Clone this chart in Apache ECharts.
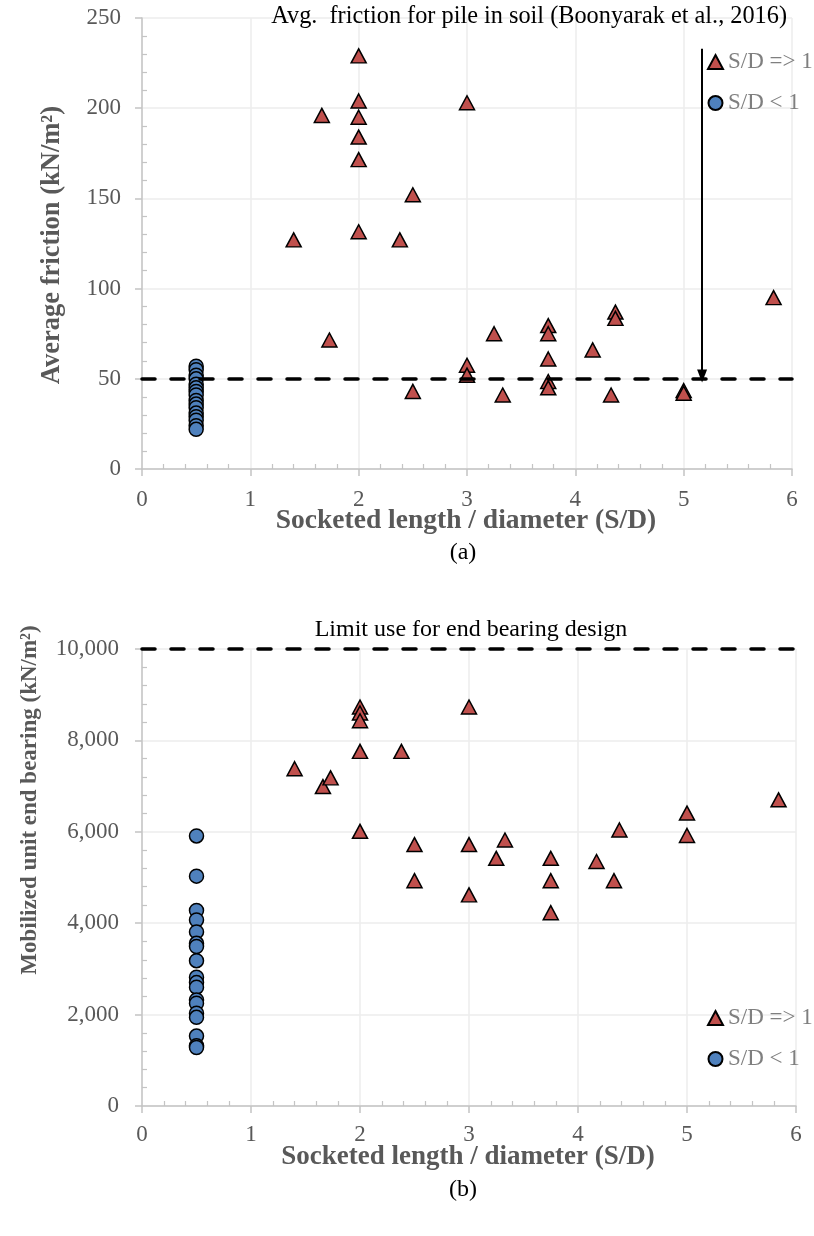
<!DOCTYPE html>
<html>
<head>
<meta charset="utf-8">
<script src="https://cdn.jsdelivr.net/npm/echarts@6/dist/echarts.min.js"></script>
<style>
html,body{margin:0;padding:0;background:#fff;}
#c{width:814px;height:1236px;}
</style>
</head>
<body>
<div id="c"></div>
<script>
// ---- data (a): average friction ----
var frictionHigh = [
  [1.4,127],[1.66,196],[1.73,71.5],[2,229],[2,204],[2,195],[2,184],[2,171.5],[2,131.5],
  [2.38,127],[2.5,152],[2.5,43],[3,203],[3,57.5],[3,52],[3.25,75],[3.33,41],
  [3.75,79.5],[3.75,75],[3.75,61],[3.75,48.5],[3.75,45],[4.16,66],[4.33,41],
  [4.37,87],[4.37,83.5],[5,43.5],[5,42],[5.83,95]
];
var frictionLow = [
  [0.5,57],[0.5,55],[0.5,52],[0.5,50],[0.5,47],[0.5,45],[0.5,43],[0.5,41],
  [0.5,38],[0.5,36],[0.5,34],[0.5,31],[0.5,29],[0.5,27],[0.5,24],[0.5,22]
];
var frictionLimit = 50;
var arrowX = 5.17, arrowFrom = 233, arrowTo = 51.5;

// ---- data (b): mobilized unit end bearing ----
var bearingHigh = [
  [1.4,7380],[1.66,6990],[1.73,7180],[2,8730],[2,8600],[2,8430],[2,7760],[2,6010],
  [2.38,7760],[2.5,5720],[2.5,4930],[3,8730],[3,5720],[3,4620],[3.25,5420],[3.33,5820],
  [3.75,5420],[3.75,4930],[3.75,4230],[4.17,5350],[4.33,4930],[4.38,6040],
  [5,6410],[5,5920],[5.84,6700]
];
var bearingLow = [
  [0.5,5910],[0.5,5030],[0.5,4280],[0.5,4070],[0.5,3810],[0.5,3560],[0.5,3490],
  [0.5,3180],[0.5,2820],[0.5,2700],[0.5,2600],[0.5,2320],[0.5,2250],[0.5,2030],
  [0.5,1940],[0.5,1530],[0.5,1320],[0.5,1280]
];
var bearingLimit = 10000;

var nameHigh = 'S/D => 1', nameLow = 'S/D < 1';
var xTitle = 'Socketed length / diameter (S/D)';

var SERIF = '"Liberation Serif","Times New Roman",serif';
var RED = '#c0504d', BLUE = '#4f81bd';

function xAxis(gi){
  return {
    type:'value', gridIndex:gi, min:0, max:6, interval:1,
    axisLine:{show:true, lineStyle:{color:'#c4c4c4', width:1.5}},
    axisTick:{show:true, length:7, lineStyle:{color:'#c4c4c4', width:1.5}},
    minorTick:{show:true, splitNumber:5, length:-5, lineStyle:{color:'#c4c4c4', width:1.2}},
    splitLine:{show:true, lineStyle:{color:'#ececec', width:1.5}},
    axisLabel:{color:'#595959', fontFamily:SERIF, fontSize:23, margin:gi===0?19:17},
  };
}
function yAxis(gi, max, interval, fmt){
  return {
    type:'value', gridIndex:gi, min:0, max:max, interval:interval,
    axisLine:{show:true, lineStyle:{color:'#c4c4c4', width:1.5}},
    axisTick:{show:true, length:7, lineStyle:{color:'#c4c4c4', width:1.5}},
    minorTick:{show:true, splitNumber:5, length:-5, lineStyle:{color:'#c4c4c4', width:1.2}},
    splitLine:{show:true, lineStyle:{color:'#ececec', width:1.5}},
    axisLabel:{color:'#595959', fontFamily:SERIF, fontSize:23, margin:gi===0?21:23, formatter:fmt},
  };
}
function tri(name, data, gi){
  return {type:'scatter', name:name, xAxisIndex:gi, yAxisIndex:gi, data:data,
    symbol:'triangle', symbolSize:[15,14], z:3,
    itemStyle:{color:RED, borderColor:'#000', borderWidth:1.5, opacity:1}};
}
function circ(name, data, gi){
  return {type:'scatter', name:name, xAxisIndex:gi, yAxisIndex:gi, data:data,
    symbol:'circle', symbolSize:14, z:3,
    itemStyle:{color:BLUE, borderColor:'#000', borderWidth:1.5, opacity:1}};
}
function dashLine(gi, val){
  return {type:'line', xAxisIndex:gi, yAxisIndex:gi, data:[], silent:true, z:2,
    markLine:{silent:true, symbol:['none','none'], label:{show:false},
      lineStyle:{color:'#000', width:3.5, type:[13,16], cap:'round'},
      emphasis:{disabled:true},
      data:[{yAxis:val}]}};
}
function legend(top){
  return {
    orient:'vertical', left:707, top:top, padding:0, itemGap:17,
    itemWidth:15, itemHeight:14, selectedMode:false,
    textStyle:{color:'#7f7f7f', fontFamily:SERIF, fontSize:23, lineHeight:24},
    data:[nameHigh, nameLow]
  };
}
function txt(x, y, s, opts){
  opts = opts || {};
  return {type:'text', x:x, y:y, rotation:opts.rot||0, silent:true, z:10,
    style:{text:s, fill:opts.color||'#000',
      font:(opts.bold?'bold ':'')+(opts.size||24)+'px '+SERIF,
      textAlign:opts.align||'center', textVerticalAlign:'middle'}};
}

var chart = echarts.init(document.getElementById('c'), null, {renderer:'canvas'});
chart.setOption({
  animation:false,
  backgroundColor:'#fff',
  grid:[
    {left:142, top:18, width:650, height:451, outerBoundsMode:'none', containLabel:false},
    {left:142, top:649, width:654, height:457, outerBoundsMode:'none', containLabel:false}
  ],
  xAxis:[xAxis(0), xAxis(1)],
  yAxis:[
    yAxis(0, 250, 50, function(v){return String(v);}),
    yAxis(1, 10000, 2000, function(v){return v.toLocaleString('en-US');})
  ],
  legend:[legend(50), legend(1006)],
  series:[
    dashLine(0, frictionLimit),
    {type:'line', xAxisIndex:0, yAxisIndex:0, data:[], silent:true, z:4,
      markLine:{silent:true, symbol:['none','triangle'], symbolSize:[10,13], label:{show:false},
        lineStyle:{color:'#000', width:2, type:'solid'}, emphasis:{disabled:true},
        data:[[{coord:[arrowX, arrowFrom]},{coord:[arrowX, arrowTo]}]]}},
    tri(nameHigh, frictionHigh, 0),
    circ(nameLow, frictionLow, 0),
    dashLine(1, bearingLimit),
    tri(nameHigh, bearingHigh, 1),
    circ(nameLow, bearingLow, 1)
  ],
  graphic:[
    txt(787, 17, 'Avg.  friction for pile in soil (Boonyarak et al., 2016)', {align:'right', size:24.3}),
    txt(52, 245, 'Average friction (kN/m\u00B2)', {rot:Math.PI/2, bold:true, color:'#595959', size:26.5}),
    txt(466, 521, xTitle, {bold:true, color:'#595959', size:27.5}),
    txt(463, 553, '(a)'),
    txt(471, 630, 'Limit use for end bearing design'),
    txt(30, 800, 'Mobilized unit end bearing (kN/m\u00B2)', {rot:Math.PI/2, bold:true, color:'#595959', size:23}),
    txt(468, 1157, xTitle, {bold:true, color:'#595959', size:27}),
    txt(463, 1190, '(b)')
  ]
});
</script>
</body>
</html>
